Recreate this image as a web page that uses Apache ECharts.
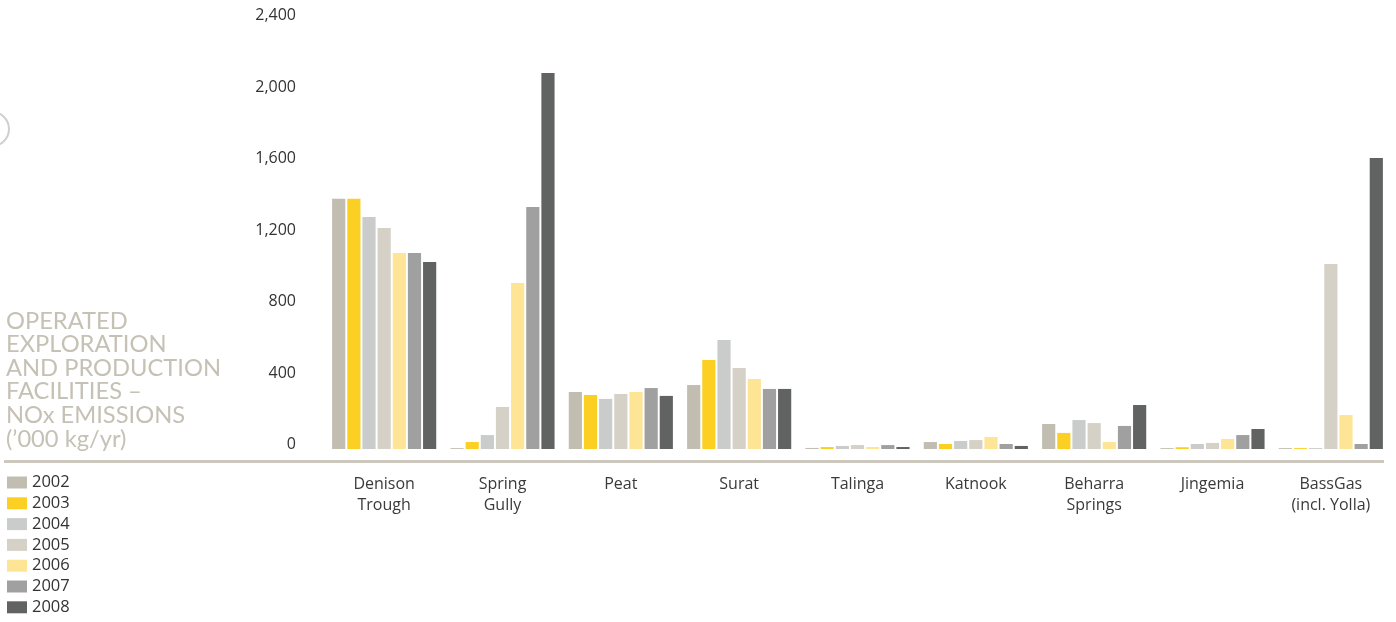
<!DOCTYPE html>
<html>
<head>
<meta charset="utf-8">
<script src="https://cdn.jsdelivr.net/npm/echarts@6/dist/echarts.min.js"></script>
<style>
  html, body { margin: 0; padding: 0; background: #ffffff; }
  #chart { width: 1396px; height: 622px; }
</style>
</head>
<body>
<div id="chart"></div>
<script>
// Operated exploration and production facilities – NOx emissions ('000 kg/yr)
const categories = ['Denison\nTrough', 'Spring\nGully', 'Peat', 'Surat', 'Talinga', 'Katnook', 'Beharra\nSprings', 'Jingemia', 'BassGas\n(incl. Yolla)'];
const years = ['2002', '2003', '2004', '2005', '2006', '2007', '2008'];
const yTicks = [0, 400, 800, 1200, 1600, 2000, 2400];

const v2002 = [1400, 5, 319, 358, 6, 39, 140, 5, 5];
const v2003 = [1400, 39, 302, 498, 11, 28, 90, 10, 5];
const v2004 = [1298, 78, 280, 610, 17, 45, 162, 28, 5];
const v2005 = [1236, 235, 308, 453, 22, 50, 145, 34, 1035];
const v2006 = [1096, 929, 319, 392, 11, 67, 39, 56, 190];
const v2007 = [1096, 1354, 341, 336, 22, 28, 129, 78, 28];
const v2008 = [1046, 2103, 297, 336, 11, 17, 246, 112, 1628];

const seriesValues = [v2002, v2003, v2004, v2005, v2006, v2007, v2008];
const colors = ['#c1bdb1', '#fcd022', '#cacccb', '#d5d1c6', '#fee495', '#9fa09f', '#616362'];

const chart = echarts.init(document.getElementById('chart'));

chart.setOption({
  animation: false,
  backgroundColor: '#ffffff',
  color: colors,
  grid: { left: 325, right: 6, top: 20, bottom: 173, containLabel: false },
  legend: {
    orient: 'vertical',
    left: 7,
    top: 474,
    height: 160,
    padding: 0,
    itemWidth: 20,
    itemHeight: 12,
    itemGap: 3.8,
    icon: 'rect',
    selectedMode: false,
    textStyle: { fontFamily: 'Open Sans', fontSize: 16.5, lineHeight: 16, color: '#333333' },
    data: years
  },
  xAxis: {
    type: 'category',
    data: categories,
    axisLine: { show: false },
    axisTick: { show: false },
    axisLabel: {
      margin: 25,
      interval: 0,
      fontFamily: 'Open Sans',
      fontSize: 16,
      lineHeight: 21,
      color: '#3a3a3a',
      align: 'center'
    }
  },
  yAxis: {
    type: 'value',
    min: 0,
    max: 2400,
    interval: 400,
    splitLine: { show: false },
    axisLine: { show: false },
    axisTick: { show: false },
    axisLabel: {
      margin: 29,
      fontFamily: 'Open Sans',
      fontSize: 16,
      lineHeight: 9,
      verticalAlign: 'bottom',
      color: '#333333',
      formatter: function (v) {
        return yTicks.indexOf(v) >= 0 ? v.toLocaleString('en-US') : '';
      }
    }
  },
  series: years.map(function (y, i) {
    return {
      name: y,
      type: 'bar',
      data: seriesValues[i],
      barGap: '15%',
      barCategoryGap: '12%',
      itemStyle: { color: colors[i] }
    };
  }),
  graphic: [
    {
      type: 'text',
      left: 6,
      top: 309,
      style: {
        text: "OPERATED\nEXPLORATION\nAND PRODUCTION\nFACILITIES –\nNOx EMISSIONS\n(’000 kg/yr)",
        fontFamily: 'Lato',
        fontWeight: 400,
        fontSize: 23.7,
        lineHeight: 23.6,
        fill: '#c6c1b5'
      }
    },
    {
      type: 'rect',
      shape: { x: 4, y: 460, width: 1380, height: 3 },
      style: { fill: '#cdc8bd' }
    },
    {
      type: 'circle',
      shape: { cx: -8, cy: 129, r: 17 },
      style: { fill: 'none', stroke: '#cfcfcf', lineWidth: 2 }
    }
  ]
});
</script>
</body>
</html>
